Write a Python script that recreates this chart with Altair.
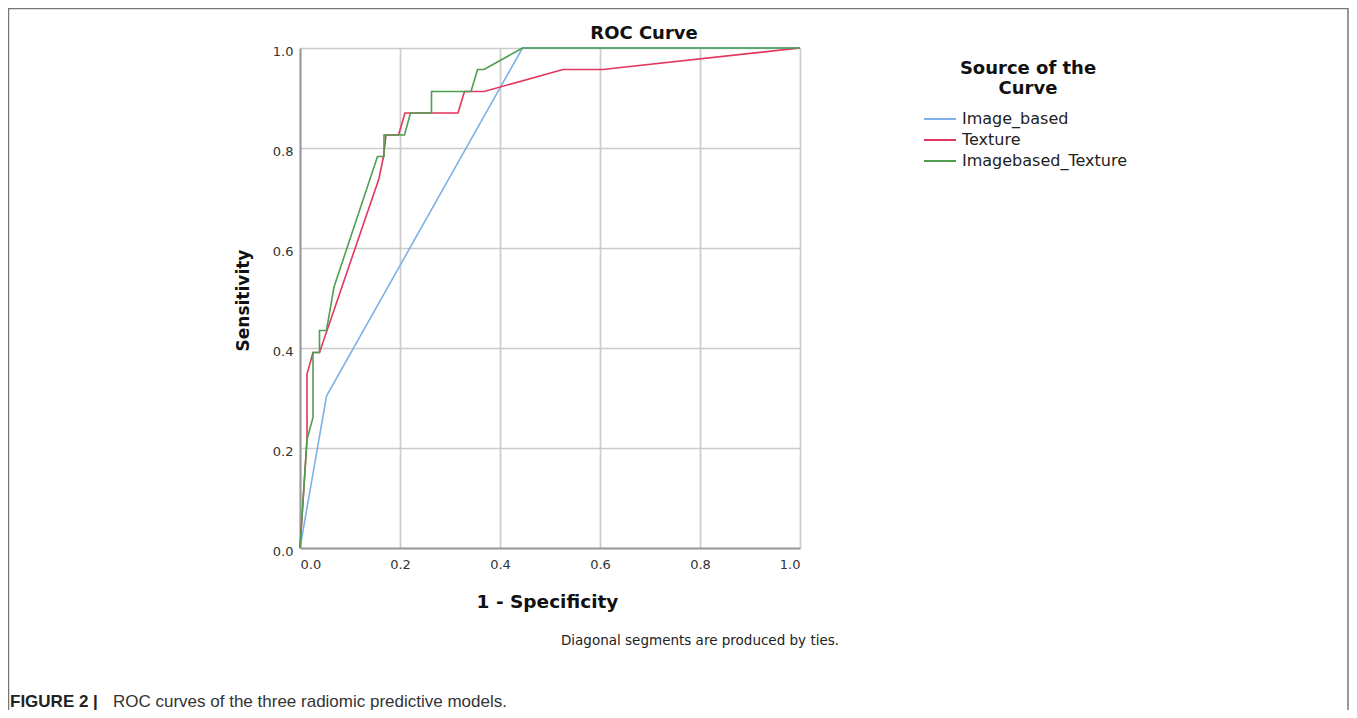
import altair as alt
import pandas as pd

series_names = ["Image_based", "Texture", "Imagebased_Texture"]
series_colors = ["#7fb0e8", "#e2365c", "#4f9e4f"]

image_fpr = [0.0, 0.053, 0.445, 1.0]
image_tpr = [0.0, 0.304, 1.0, 1.0]

texture_fpr = [0.0, 0.014, 0.014, 0.026, 0.039, 0.158, 0.167, 0.172, 0.197, 0.210,
               0.316, 0.329, 0.368, 0.526, 0.605, 1.0]
texture_tpr = [0.0, 0.217, 0.348, 0.391, 0.391, 0.739, 0.783, 0.826, 0.826, 0.870,
               0.870, 0.913, 0.913, 0.957, 0.957, 1.0]

combo_fpr = [0.0, 0.014, 0.026, 0.026, 0.039, 0.039, 0.053, 0.068, 0.155, 0.168,
             0.168, 0.209, 0.221, 0.263, 0.263, 0.342, 0.355, 0.368, 0.445, 1.0]
combo_tpr = [0.0, 0.217, 0.261, 0.391, 0.391, 0.435, 0.435, 0.522, 0.783, 0.783,
             0.826, 0.826, 0.870, 0.870, 0.913, 0.913, 0.957, 0.957, 1.0, 1.0]

tick_values = [0.0, 0.2, 0.4, 0.6, 0.8, 1.0]

chart_title = "ROC Curve"
x_title = "1 - Specificity"
y_title = "Sensitivity"
legend_title = ["Source of the", "Curve"]
note_text = "Diagonal segments are produced by ties."
caption_bold = "FIGURE 2 |"
caption_rest = "ROC curves of the three radiomic predictive models."

FONT = "DejaVu Sans"
CAP_FONT = "Liberation Sans"


def frame_for(name, fpr, tpr):
    return pd.DataFrame({"series": name, "fpr": fpr, "tpr": tpr, "idx": list(range(len(fpr)))})


dfs = [frame_for(series_names[0], image_fpr, image_tpr),
       frame_for(series_names[1], texture_fpr, texture_tpr),
       frame_for(series_names[2], combo_fpr, combo_tpr)]

color_scale = alt.Scale(domain=series_names, range=series_colors)

x_enc = alt.X("fpr:Q", scale=alt.Scale(domain=[0, 1], nice=False),
              axis=alt.Axis(values=tick_values, format=".1f", title=x_title,
                            titleX=247, titleY=53, titleAlign="center", titleBaseline="middle",
                            titleFont=FONT, titleFontSize=18.5, titleFontWeight="bold", titleColor="#111",
                            labelFont=FONT, labelFontSize=13, labelColor="#333", labelPadding=10,
                            ticks=False, domainColor="#9a9a9a", domainWidth=2,
                            gridColor="#cbcbcb", gridWidth=1.7))
y_enc = alt.Y("tpr:Q", scale=alt.Scale(domain=[0, 1], nice=False),
              axis=alt.Axis(values=tick_values, format=".1f", title=y_title,
                            titleX=-57, titleY=252, titleAngle=270, titleAlign="center",
                            titleBaseline="middle",
                            titleFont=FONT, titleFontSize=17, titleFontWeight="bold", titleColor="#111",
                            labelFont=FONT, labelFontSize=13, labelColor="#333", labelPadding=7,
                            labelOffset=3,
                            ticks=False, domainColor="#9a9a9a", domainWidth=2,
                            gridColor="#cbcbcb", gridWidth=1.7))

legend = alt.Legend(title=legend_title, orient="none", legendX=629, legendY=12,
                    titleFont=FONT, titleFontSize=18, titleFontWeight="bold", titleColor="#111",
                    titleAnchor="middle", titleAlign="center", titleLineHeight=20, titlePadding=10,
                    labelFont=FONT, labelFontSize=16, labelColor="#222", labelOffset=11,
                    labelLimit=400,
                    symbolType="M-1.6,0H1.6", symbolSize=400, symbolStrokeWidth=2, rowPadding=2)

layers = []
for d in dfs:
    layers.append(
        alt.Chart(d).mark_line(strokeWidth=1.6).encode(
            x=x_enc, y=y_enc,
            color=alt.Color("series:N", scale=color_scale, legend=legend),
            order="idx:Q",
        )
    )

one = pd.DataFrame({"t": [chart_title]})
title_mark = alt.Chart(one).mark_text(font=FONT, fontSize=18, fontWeight="bold", color="#111",
                                      align="center", baseline="middle").encode(
    x=alt.value(344), y=alt.value(-14), text="t:N")

note_df = pd.DataFrame({"t": [note_text]})
note_mark = alt.Chart(note_df).mark_text(font=FONT, fontSize=13.5, color="#222",
                                         align="center", baseline="middle").encode(
    x=alt.value(400), y=alt.value(593), text="t:N")

cap1 = pd.DataFrame({"t": [caption_bold]})
cap1_mark = alt.Chart(cap1).mark_text(font=CAP_FONT, fontSize=17, fontWeight="bold", color="#222",
                                      align="left", baseline="middle").encode(
    x=alt.value(-290), y=alt.value(654), text="t:N")
cap2 = pd.DataFrame({"t": [caption_rest]})
cap2_mark = alt.Chart(cap2).mark_text(font=CAP_FONT, fontSize=17, color="#333",
                                      align="left", baseline="middle").encode(
    x=alt.value(-187), y=alt.value(654), text="t:N")

frame = alt.Chart(pd.DataFrame({"a": [0]})).mark_rect(
    fillOpacity=0, stroke="#777", strokeWidth=1.5).encode(
    x=alt.value(-291.5), x2=alt.value(1048), y=alt.value(-39.5), y2=alt.value(740))

chart = alt.layer(frame, *layers, title_mark, note_mark, cap1_mark, cap2_mark).properties(
    width=500, height=500,
    autosize=alt.AutoSizeParams(type="none"),
    padding={"left": 292, "top": 40, "right": 549, "bottom": 162},
).configure_view(stroke="transparent")

chart.save("out.html", embed_options={"renderer": "svg", "actions": False})
